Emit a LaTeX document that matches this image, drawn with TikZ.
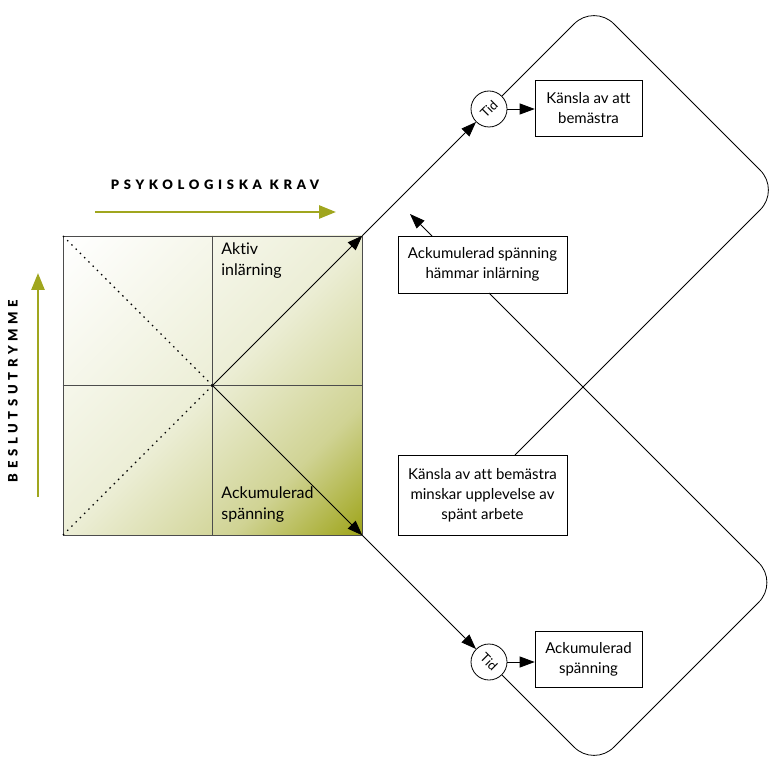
\documentclass[tikz,border=0pt]{standalone}
\usepackage{fontspec}
\setmainfont{Lato}[Ligatures=NoCommon]
\newfontfamily\spaced{Lato Black}[LetterSpace=36,Ligatures=NoCommon]
\usetikzlibrary{arrows.meta,positioning}
\definecolor{krav}{RGB}{160,166,30}
\definecolor{kravmid}{RGB}{208,211,148}
\definecolor{kravljus}{RGB}{236,238,214}
\pgfdeclarehorizontalshading{kravshade}{100bp}{color(0bp)=(white); color(15bp)=(white);
  color(50bp)=(kravljus); color(70bp)=(kravmid); color(85bp)=(krav); color(100bp)=(krav)}

\begin{document}
\begin{tikzpicture}[x=1pt,y=-1pt,line width=0.8pt]
	\tikzset{box/.style={draw,line width=0.6pt,align=center,inner sep=0pt,font=\fontsize{15}{20}\selectfont}}
	\tikzset{tid/.style={draw,circle,minimum size=36pt,inner sep=0pt,font=\fontsize{13}{13}\selectfont}}
	\tikzset{pil/.style={-{Triangle[length=15pt,width=11pt]}}}
	\tikzset{kravpil/.style={draw=krav,line width=2.6pt,-{Triangle[length=17pt,width=13pt]}}}
	\tikzset{etikett/.style={anchor=north west,align=left,inner sep=0pt,font=\fontsize{16}{21}\selectfont}}
	\useasboundingbox (0,0) rectangle (771,759);
	% kvadraten
	\node[draw=black!70,line width=0.6pt,minimum size=299pt,inner sep=0pt,
		shading=kravshade,shading angle=-45] (sq) at (212.5,385.5) {};
	\draw[black!70,line width=0.6pt] (sq.north) -- (sq.south);
	\draw[black!70,line width=0.6pt] (sq.west) -- (sq.east);
	\draw[line width=1.2pt,dash pattern=on 1.5pt off 4.5pt] (sq.center) -- (sq.north west);
	\draw[line width=1.2pt,dash pattern=on 1.5pt off 4.5pt] (sq.center) -- (sq.south west);
	\node[etikett] (aktiv) at (221,242) {Aktiv\\inlärning};
	\node[etikett] (ackum) at (221,486) {Ackumulerad\\spänning};
	% axlar
	\node[font=\spaced\fontsize{13}{13}\selectfont] (krav) at (215,185) {PSYKOLOGISKA KRAV};
	\node[rotate=90,font=\spaced\fontsize{13}{13}\selectfont] (beslut) at (13,391) {BESLUTSUTRYMME};
	\coordinate (k1) at (95,212);
	\coordinate (k2) at (336,212);
	\coordinate (b1) at (38,497);
	\coordinate (b2) at (38,273);
	\draw[kravpil] (k1) -- (k2);
	\draw[kravpil] (b1) -- (b2);
	% rutor
	\node[tid] (tid1) at (489,109) {\rotatebox{45}{Tid}};
	\node[tid] (tid2) at (489,662) {\rotatebox{-45}{Tid}};
	\node[box,minimum width=107pt,minimum height=56pt] (bemastra) at (588.5,108) {Känsla av att\\bemästra};
	\node[box,minimum width=107pt,minimum height=56pt] (spanning) at (588.5,659) {Ackumulerad\\spänning};
	\node[box,minimum width=169pt,minimum height=57pt] (hammar) at (482.5,264.5) {Ackumulerad spänning\\hämmar inlärning};
	\node[box,minimum width=169pt,minimum height=80pt] (minskar) at (482.5,495) {Känsla av att bemästra\\minskar upplevelse av\\spänt arbete};
	% slingor
	\coordinate (topp) at (594,4);
	\coordinate (hoger1) at (780,190);
	\coordinate (m1) at (515,455);
	\coordinate (botten) at (594,767);
	\coordinate (hoger2) at (778.5,582.5);
	\coordinate (h1) at (489,293);
	\coordinate (h2) at (432,236);
	\coordinate (h3) at (410,214);
	\draw[pil] (sq.center) -- (sq.north east);
	\draw[pil] (sq.center) -- (sq.south east);
	\draw[pil] (sq.north east) -- (tid1);
	\draw[pil] (sq.south east) -- (tid2);
	\draw[rounded corners=28pt] (tid1) -- (topp) -- (hoger1) -- (m1);
	\draw[rounded corners=28pt] (tid2) -- (botten) -- (hoger2) -- (h1);
	\draw[pil] (h2) -- (h3);
	\draw[pil] (tid1) -- (tid1 -| bemastra.west);
	\draw[pil] (tid2) -- (tid2 -| spanning.west);
\end{tikzpicture}
\end{document}
